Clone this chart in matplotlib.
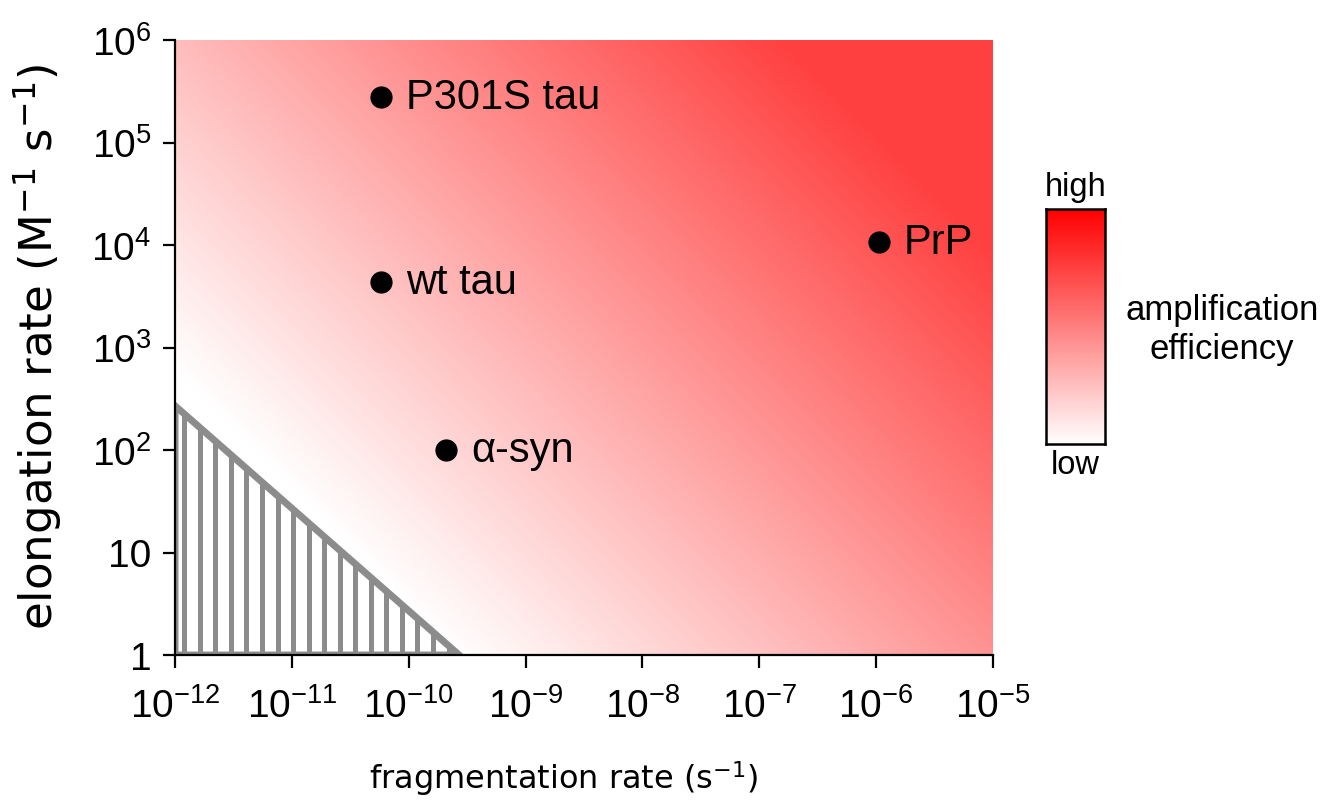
import numpy as np
import matplotlib
matplotlib.use("Agg")
import matplotlib.pyplot as plt
from matplotlib.colors import LinearSegmentedColormap
from matplotlib.patches import Polygon

# ---------------- data ----------------
names = ["P301S tau", "wt tau", "α-syn", "PrP"]
frag_rate = [5.8e-11, 5.8e-11, 2.1e-10, 1.05e-6]      # s^-1
elong_rate = [2.8e5, 4.4e3, 1.0e2, 1.07e4]            # M^-1 s^-1
threshold_product = 2.7e-10                           # frag * elong below which no amplification

x_decades = [-12, -11, -10, -9, -8, -7, -6, -5]
x_tick_labels = [r"$\mathregular{10^{-12}}$", r"$\mathregular{10^{-11}}$", r"$\mathregular{10^{-10}}$",
                 r"$\mathregular{10^{-9}}$", r"$\mathregular{10^{-8}}$", r"$\mathregular{10^{-7}}$",
                 r"$\mathregular{10^{-6}}$", r"$\mathregular{10^{-5}}$"]
y_decades = [0, 1, 2, 3, 4, 5, 6]
y_tick_labels = ["1", "10", r"$\mathregular{10^{2}}$", r"$\mathregular{10^{3}}$", r"$\mathregular{10^{4}}$",
                 r"$\mathregular{10^{5}}$", r"$\mathregular{10^{6}}$"]

plt.rcParams["mathtext.fontset"] = "custom"
plt.rcParams["mathtext.rm"] = "Liberation Sans"
plt.rcParams["mathtext.it"] = "Liberation Sans:italic"
plt.rcParams["mathtext.bf"] = "Liberation Sans:bold"

fig = plt.figure(figsize=(13.26, 8.04), dpi=100)
ax = fig.add_axes([175/1326, 1-656/804, (993-175)/1326, (656-41)/804])

# background gradient
lx = np.linspace(x_decades[0], x_decades[-1], 400)
ly = np.linspace(y_decades[0], y_decades[-1], 400)
LX, LY = np.meshgrid(lx, ly)
u = (LX - x_decades[0]) / (x_decades[-1] - x_decades[0])
v = (LY - y_decades[0]) / (y_decades[-1] - y_decades[0])
t = np.clip(0.87*u + 0.65*v - 0.30, 0, 1)
bg_cmap = LinearSegmentedColormap.from_list("bg", ["#ffffff", "#ff4040"])
ax.pcolormesh(10.0**lx, 10.0**ly, t, cmap=bg_cmap, vmin=0, vmax=1, shading="gouraud", zorder=0,
              rasterized=True)

ax.set_xscale("log")
ax.set_yscale("log")
ax.set_xlim(10.0**x_decades[0], 10.0**x_decades[-1])
ax.set_ylim(10.0**y_decades[0], 10.0**y_decades[-1])

# forbidden triangle
x0 = 10.0**x_decades[0]
y0 = 10.0**y_decades[0]
tri = [(x0, y0), (x0, threshold_product/x0), (threshold_product/y0, y0)]
fill = Polygon(tri, closed=True, facecolor="white", edgecolor="none", zorder=1)
ax.add_patch(fill)
step = 0.133
stripe_x = 10.0**np.arange(x_decades[0] + step*0.6, np.log10(threshold_product/y0), step)
lines = ax.vlines(stripe_x, y0, threshold_product/x0, colors="#8c8c8c", linewidth=3.6, zorder=2)
lines.set_clip_path(fill)
edge = Polygon(tri, closed=True, facecolor="none", edgecolor="#8c8c8c", linewidth=5, zorder=3,
               joinstyle="miter")
ax.add_patch(edge)

# points
ax.scatter(frag_rate, elong_rate, s=15**2, color="black", zorder=5, clip_on=False)
for n, fx, ey in zip(names, frag_rate, elong_rate):
    ax.annotate(n, (fx, ey), xytext=(18, 0), textcoords="offset points", va="center", ha="left",
                fontsize=30, family="Liberation Sans", zorder=6)

# axes styling
for s in ["top", "right"]:
    ax.spines[s].set_visible(False)
for s in ["left", "bottom"]:
    ax.spines[s].set_linewidth(1.6)
    ax.spines[s].set_zorder(10)
ax.set_xticks([10.0**d for d in x_decades])
ax.set_xticklabels(x_tick_labels)
ax.set_yticks([10.0**d for d in y_decades])
ax.set_yticklabels(y_tick_labels)
ax.minorticks_off()
ax.tick_params(axis="both", which="major", direction="out", length=9, width=1.6, labelsize=28)
ax.tick_params(axis="x", pad=14)
ax.tick_params(axis="y", pad=8)
for lab in ax.get_xticklabels() + ax.get_yticklabels():
    lab.set_family("Liberation Sans")

ax.set_xlabel(r"fragmentation rate (s$^{\mathregular{-1}}$)", fontsize=23, family="DejaVu Sans")
ax.xaxis.set_label_coords((564-175)/818, -0.168)
fig.text(38/1326, 1-347/804, r"elongation rate (M$^{\mathregular{-1}}$ s$^{\mathregular{-1}}$)",
         fontsize=32.5, family="DejaVu Sans", rotation=90, ha="center", va="center",
         rotation_mode="default")

# colour key
cax = fig.add_axes([1046/1326, 1-445/804, (1105-1046)/1326, (445-210)/804])
key_cmap = LinearSegmentedColormap.from_list("key", ["#ffffff", "#ff0000"])
cax.imshow(np.linspace(0, 1, 256)[:, None], aspect="auto", cmap=key_cmap, origin="lower",
           extent=[0, 1, 0, 1])
cax.set_xticks([])
cax.set_yticks([])
for s in cax.spines.values():
    s.set_linewidth(1.8)
cax.text(0.5, 1.03, "high", transform=cax.transAxes, ha="center", va="bottom", fontsize=23.5,
         family="Liberation Sans")
cax.text(0.5, -0.02, "low", transform=cax.transAxes, ha="center", va="top", fontsize=23.5,
         family="Liberation Sans")
fig.text(1222/1326, 1-330/804, "amplification\nefficiency", ha="center", va="center", fontsize=25,
         family="Liberation Sans", linespacing=1.2)

fig.savefig("out.png", dpi=100)
